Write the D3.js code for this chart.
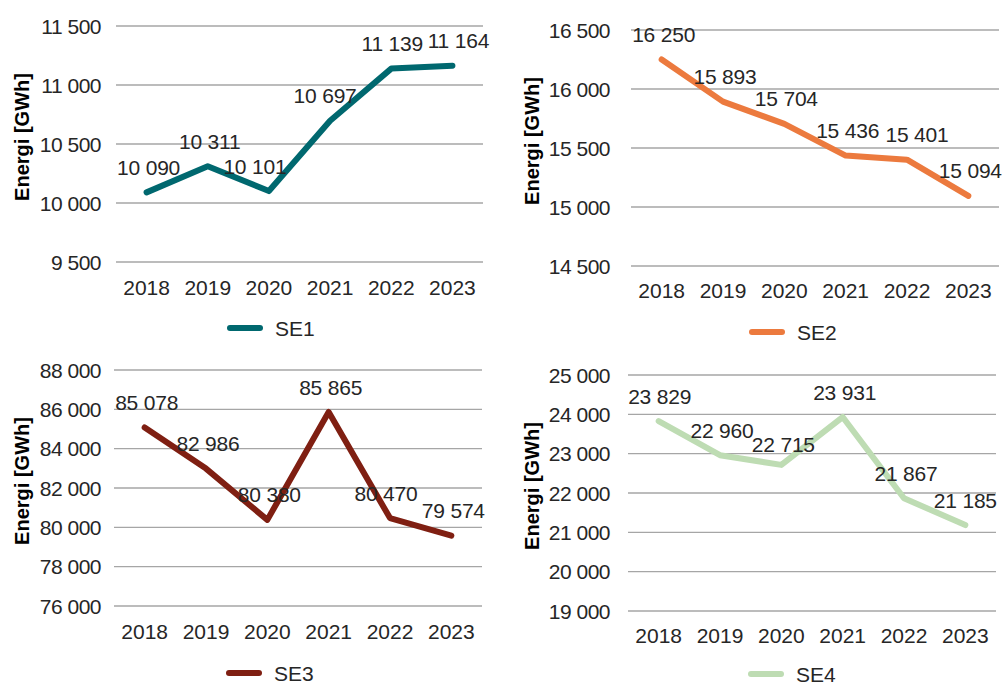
<!DOCTYPE html>
<html>
<head>
<meta charset="utf-8">
<script src="https://cdn.jsdelivr.net/npm/d3@7"></script>
<style>
  html, body { margin: 0; padding: 0; background: #fff; }
  svg { display: block; font-family: "Liberation Sans", Arial, sans-serif; }
</style>
</head>
<body>
<svg id="chart" width="1003" height="685"></svg>
<script>
// ---- data ----
const years = ["2018", "2019", "2020", "2021", "2022", "2023"];
const seriesNames = ["SE1", "SE2", "SE3", "SE4"];
const se1 = [10090, 10311, 10101, 10697, 11139, 11164];
const se2 = [16250, 15893, 15704, 15436, 15401, 15094];
const se3 = [85078, 82986, 80380, 85865, 80470, 79574];
const se4 = [23829, 22960, 22715, 23931, 21867, 21185];
const ticks1 = [9500, 10000, 10500, 11000, 11500];
const ticks2 = [14500, 15000, 15500, 16000, 16500];
const ticks3 = [76000, 78000, 80000, 82000, 84000, 86000, 88000];
const ticks4 = [19000, 20000, 21000, 22000, 23000, 24000, 25000];
const yTitle = "Energi [GWh]";

// ---- layout / style ----
const colors = ["#00686f", "#ec7a3e", "#7f1f12", "#bedcb3"];
const panels = [
  { values: se1, ticks: ticks1, x0: 116, x1: 483, yTop: 26, yBot: 262, tickRight: 101, titleX: 22, yearY: 287, legY: 328, legX: 227,
    nudge: [[0,0],[0,0],[-16,0],[-7,0],[-1,0],[4,0]] },
  { values: se2, ticks: ticks2, x0: 631, x1: 999, yTop: 30, yBot: 266, tickRight: 610, titleX: 532, yearY: 290, legY: 332, legX: 749,
    nudge: [[0,0],[0,0],[0,0],[0,0],[8,0],[0,0]] },
  { values: se3, ticks: ticks3, x0: 114, x1: 482, yTop: 370, yBot: 606, tickRight: 101, titleX: 22, yearY: 631, legY: 673, legX: 226,
    nudge: [[0,0],[0,0],[0,0],[0,0],[-6,0],[0,0]] },
  { values: se4, ticks: ticks4, x0: 628, x1: 996, yTop: 375, yBot: 611, tickRight: 610, titleX: 532, yearY: 635, legY: 674, legX: 748,
    nudge: [[-1,0],[0,0],[0,5],[0,0],[0,0],[-2,0]] }
];

const fmt = d3.formatLocale({ decimal: ",", thousands: "\u00a0", grouping: [3], currency: ["", ""] }).format(",d");
const textColor = "#262626";
const svg = d3.select("#chart");

panels.forEach((p, k) => {
  const g = svg.append("g");
  const x = d3.scaleBand().domain(years).range([p.x0, p.x1]);
  const y = d3.scaleLinear().domain([p.ticks[0], p.ticks[p.ticks.length - 1]]).range([p.yBot, p.yTop]);

  // gridlines
  g.append("g").selectAll("line").data(p.ticks).join("line")
    .attr("x1", p.x0).attr("x2", p.x1)
    .attr("y1", d => y(d)).attr("y2", d => y(d))
    .attr("stroke", "#a6a6a6").attr("stroke-width", 1.3);

  // y tick labels
  g.append("g").selectAll("text").data(p.ticks).join("text")
    .attr("x", p.tickRight).attr("y", d => y(d))
    .attr("dy", "0.36em").attr("text-anchor", "end")
    .attr("font-size", 21).attr("fill", textColor).attr("letter-spacing", -0.5)
    .text(d => fmt(d));

  // x labels
  g.append("g").selectAll("text").data(years).join("text")
    .attr("x", d => x(d) + x.bandwidth() / 2).attr("y", p.yearY)
    .attr("dy", "0.36em").attr("text-anchor", "middle")
    .attr("font-size", 21).attr("fill", textColor)
    .text(d => d);

  // y title
  g.append("text")
    .attr("transform", `translate(${p.titleX},${(p.yTop + p.yBot) / 2 - 7}) rotate(-90)`)
    .attr("dy", "0.36em").attr("text-anchor", "middle")
    .attr("font-size", 20).attr("font-weight", "bold").attr("fill", "#000")
    .text(yTitle);

  // line
  const line = d3.line().x((d, i) => x(years[i]) + x.bandwidth() / 2).y(d => y(d));
  g.append("path").datum(p.values)
    .attr("d", line).attr("fill", "none")
    .attr("stroke", colors[k]).attr("stroke-width", 6)
    .attr("stroke-linejoin", "round").attr("stroke-linecap", "round");

  // data labels
  g.append("g").selectAll("text").data(p.values).join("text")
    .attr("x", (d, i) => x(years[i]) + x.bandwidth() / 2 + 2 + p.nudge[i][0])
    .attr("y", (d, i) => y(d) - 25 + p.nudge[i][1])
    .attr("dy", "0.36em").attr("text-anchor", "middle")
    .attr("font-size", 21).attr("fill", textColor).attr("letter-spacing", -0.2)
    .text(d => fmt(d));

  // legend
  g.append("line")
    .attr("x1", p.legX + 3).attr("x2", p.legX + 33)
    .attr("y1", p.legY).attr("y2", p.legY)
    .attr("stroke", colors[k]).attr("stroke-width", 6).attr("stroke-linecap", "round");
  g.append("text")
    .attr("x", p.legX + 48).attr("y", p.legY)
    .attr("dy", "0.36em").attr("font-size", 21).attr("fill", textColor)
    .text(seriesNames[k]);
});
</script>
</body>
</html>
